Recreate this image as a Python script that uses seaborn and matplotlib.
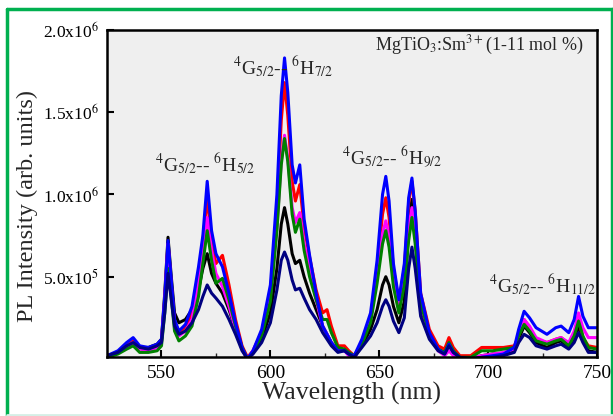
import numpy as np
import pandas as pd
import matplotlib
matplotlib.use("Agg")
import matplotlib.pyplot as plt
import seaborn as sns
from matplotlib.lines import Line2D
from matplotlib.ticker import FixedLocator

# wavelengths (nm) and PL intensities (x1e6)
wavelength = [525, 530, 534, 537, 540, 544, 548, 550, 551.5, 553, 554.5, 556, 558, 561, 564, 567,
              569, 571, 573, 575, 578, 581, 584, 587, 589.5, 592, 596, 600, 603, 605, 606.5, 608,
              610, 611.5, 613.5, 615.5, 618, 621, 624, 626, 628, 631, 634, 636, 638.5, 642, 646,
              649, 651.5, 653, 654.5, 656.5, 659, 661.5, 663.5, 665, 666.5, 669, 673, 677, 680,
              682, 684, 687, 692, 697, 702, 707, 712, 714, 716.5, 719, 722, 727, 731, 733.5, 737,
              739.5, 741.5, 743.5, 746, 750]

black = [.02, .04, .08, .10, .07, .07, .09, .12, .40, .74, .50, .28, .22, .24, .30, .42,
         .55, .64, .52, .46, .40, .30, .18, .06, .00, .04, .12, .28, .55, .82, .92, .82,
         .64, .58, .60, .50, .40, .30, .20, .15, .10, .05, .06, .03, .01, .08, .18,
         .30, .45, .50, .45, .32, .22, .35, .80, .97, .75, .32, .14, .06, .04,
         .10, .05, .01, .00, .02, .03, .03, .05, .12, .20, .16, .10, .07, .10, .11, .07,
         .12, .20, .11, .05, .04]
red = [.02, .04, .08, .11, .07, .06, .08, .11, .36, .70, .45, .22, .16, .19, .28, .50,
       .72, .98, .72, .58, .63, .45, .24, .08, .01, .05, .16, .40, .90, 1.45, 1.68, 1.48,
       1.08, .96, 1.06, .80, .62, .42, .28, .30, .20, .08, .08, .05, .02, .10, .25,
       .55, .88, .98, .86, .55, .35, .55, .95, 1.08, .90, .40, .18, .08, .06,
       .13, .07, .02, .02, .07, .07, .07, .08, .14, .24, .19, .12, .10, .12, .13, .09,
       .15, .24, .13, .08, .07]
magenta = [.02, .04, .08, .10, .06, .05, .07, .10, .36, .70, .45, .22, .14, .17, .24, .46,
           .64, .86, .66, .52, .44, .32, .18, .06, .00, .05, .16, .38, .80, 1.20, 1.36, 1.22,
           .92, .83, .89, .70, .55, .36, .20, .15, .10, .05, .05, .02, .00, .10, .24,
           .50, .76, .84, .74, .48, .30, .48, .80, .92, .75, .34, .14, .05, .02,
           .05, .02, .00, .01, .02, .03, .04, .06, .15, .24, .20, .13, .10, .12, .13, .10,
           .17, .28, .19, .13, .13]
green = [.01, .03, .06, .08, .04, .04, .05, .08, .28, .55, .37, .17, .11, .14, .20, .38,
         .58, .78, .60, .46, .49, .36, .20, .07, .00, .04, .14, .35, .78, 1.18, 1.34, 1.20,
         .88, .77, .85, .66, .50, .36, .24, .24, .16, .07, .06, .04, .02, .09, .22,
         .46, .70, .78, .68, .44, .28, .45, .72, .86, .70, .34, .15, .06, .04,
         .10, .05, .01, .01, .05, .05, .06, .07, .14, .21, .17, .11, .09, .11, .12, .08,
         .14, .23, .14, .07, .06]
blue = [.02, .05, .10, .13, .08, .07, .09, .12, .38, .72, .48, .24, .17, .21, .32, .56,
        .75, 1.08, .78, .64, .56, .40, .22, .07, .00, .05, .18, .45, 1.00, 1.60, 1.83, 1.62,
        1.18, 1.07, 1.18, .85, .63, .40, .20, .15, .10, .05, .05, .03, .02, .12, .28,
        .60, 1.00, 1.11, .96, .58, .36, .58, .98, 1.10, .90, .40, .16, .06, .03,
        .09, .04, .01, .00, .01, .02, .03, .07, .18, .29, .25, .19, .15, .19, .20, .16,
        .24, .38, .26, .19, .19]
navy = [.02, .04, .08, .10, .07, .06, .08, .10, .28, .52, .36, .20, .15, .17, .22, .30,
        .38, .45, .40, .37, .32, .24, .15, .05, .00, .03, .10, .22, .42, .60, .65, .60,
        .48, .42, .43, .37, .30, .24, .16, .12, .08, .04, .05, .03, .01, .07, .14,
        .22, .32, .36, .32, .23, .16, .25, .55, .68, .55, .26, .12, .05, .03,
        .08, .04, .01, .00, .01, .01, .02, .04, .10, .15, .13, .08, .06, .08, .09, .06,
        .10, .16, .10, .04, .04]

series = {"black": black, "red": red, "magenta": magenta, "green": green,
          "blue": blue, "navy": navy}
colors = {"black": "#000000", "red": "#ff0000", "magenta": "#ff00ff",
          "green": "#008000", "blue": "#0000ff", "navy": "#000080"}

sns.set_theme(style="ticks")
plt.rcParams["font.family"] = ["Liberation Serif", "DejaVu Serif"]
plt.rcParams["mathtext.fontset"] = "stix"

fig = plt.figure(figsize=(6.13, 4.16), dpi=100)
ax = fig.add_axes([0.1746, 0.1418, 0.7994, 0.7862])
ax.set_facecolor("#efefef")

for name, vals in series.items():
    df = pd.DataFrame({"wl": wavelength, "I": np.array(vals) * 1e6})
    sns.lineplot(data=df, x="wl", y="I", color=colors[name], lw=2.2, ax=ax, sort=False)

ax.set_xlim(525, 750)
ax.set_ylim(1.2e4, 2.0e6)
ax.xaxis.set_major_locator(FixedLocator([550, 600, 650, 700, 750]))
ax.xaxis.set_minor_locator(FixedLocator([575, 625, 675, 725]))
ax.set_xticklabels(["550", "600", "650", "700", "750"])
ax.set_yticks([5e5, 1e6, 1.5e6, 2e6])
ax.set_yticklabels(["5.0x10$^5$", "1.0x10$^6$", "1.5x10$^6$", "2.0x10$^6$"])
ax.tick_params(axis="both", direction="in", length=5, width=1.5, colors="black", pad=6)
ax.tick_params(axis="x", labelsize=14)
ax.tick_params(axis="y", labelsize=12.5)
ax.tick_params(axis="x", which="minor", direction="in", length=3, width=1)
for s in ax.spines.values():
    s.set_linewidth(1.8)
    s.set_color("black")

ax.set_xlabel("Wavelength (nm)", fontsize=18.5)
ax.set_ylabel("PL Intensity (arb. units)", fontsize=17.5)
ax.xaxis.set_label_coords(0.498, -0.075)
ax.yaxis.set_label_coords(-0.14, 0.462)

ax.text(0.971, 0.954, "MgTiO$_3$:Sm$^{3+}$(1-11 mol %)", transform=ax.transAxes,
        ha="right", va="center", fontsize=13)
ax.text(570, 1.18e6, "$^4$G$_{5/2}$-- $^6$H$_{5/2}$", ha="center", va="center", fontsize=14)
ax.text(606, 1.77e6, "$^4$G$_{5/2}$-- $^6$H$_{7/2}$", ha="center", va="center", fontsize=14)
ax.text(656, 1.23e6, "$^4$G$_{5/2}$-- $^6$H$_{9/2}$", ha="center", va="center", fontsize=14)
ax.text(725, 0.45e6, "$^4$G$_{5/2}$-- $^6$H$_{11/2}$", ha="center", va="center", fontsize=14)

# green frame around the figure
green_frame = "#00b050"
fig.add_artist(Line2D([0.012, 0.012], [0.0, 0.978], color=green_frame, lw=2.5))
fig.add_artist(Line2D([0.012, 1.0], [0.978, 0.978], color=green_frame, lw=2.5))
fig.add_artist(Line2D([0.998, 0.998], [0.0, 0.978], color=green_frame, lw=2.5))
fig.add_artist(Line2D([0.012, 1.0], [0.003, 0.003], color="#d5efe6", lw=2))

fig.savefig("out.png", dpi=100, facecolor="white")
